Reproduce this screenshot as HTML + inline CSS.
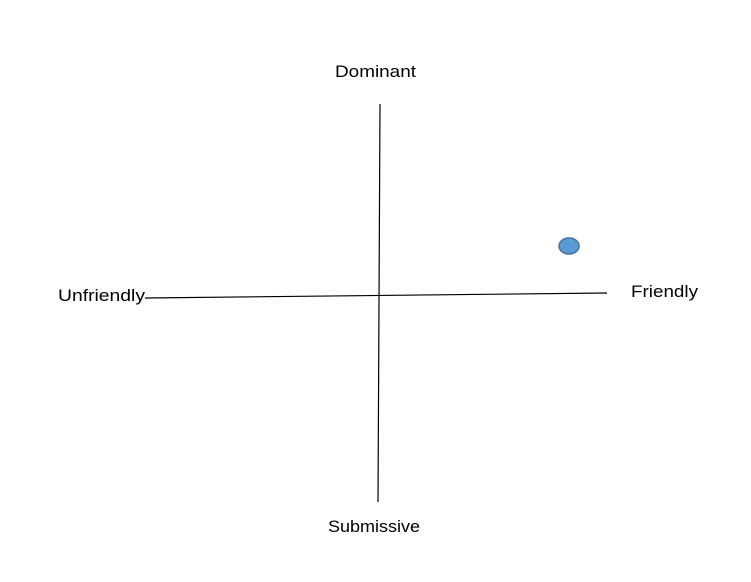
<!DOCTYPE html>
<html><head><meta charset="utf-8"><style>
html,body{margin:0;padding:0;background:#fff;}
svg{display:block;}
text{font-family:"Liberation Sans",sans-serif;font-size:17px;fill:#000;}
</style></head><body>
<svg width="751" height="582" viewBox="0 0 751 582">
<rect width="751" height="582" fill="#fff"/>
<line x1="380" y1="104" x2="378" y2="502" stroke="#000" stroke-width="1.2"/>
<line x1="145" y1="298" x2="607" y2="293" stroke="#000" stroke-width="1.2"/>
<ellipse cx="569" cy="246" rx="10" ry="8" fill="#5b9bd5" stroke="#41719c" stroke-width="1.5"/>
<text x="335" y="77" textLength="81" lengthAdjust="spacingAndGlyphs">Dominant</text>
<text x="328" y="532" textLength="92" lengthAdjust="spacingAndGlyphs">Submissive</text>
<text x="58" y="301" textLength="87" lengthAdjust="spacingAndGlyphs">Unfriendly</text>
<text x="631" y="297" textLength="67" lengthAdjust="spacingAndGlyphs">Friendly</text>
</svg>
</body></html>
